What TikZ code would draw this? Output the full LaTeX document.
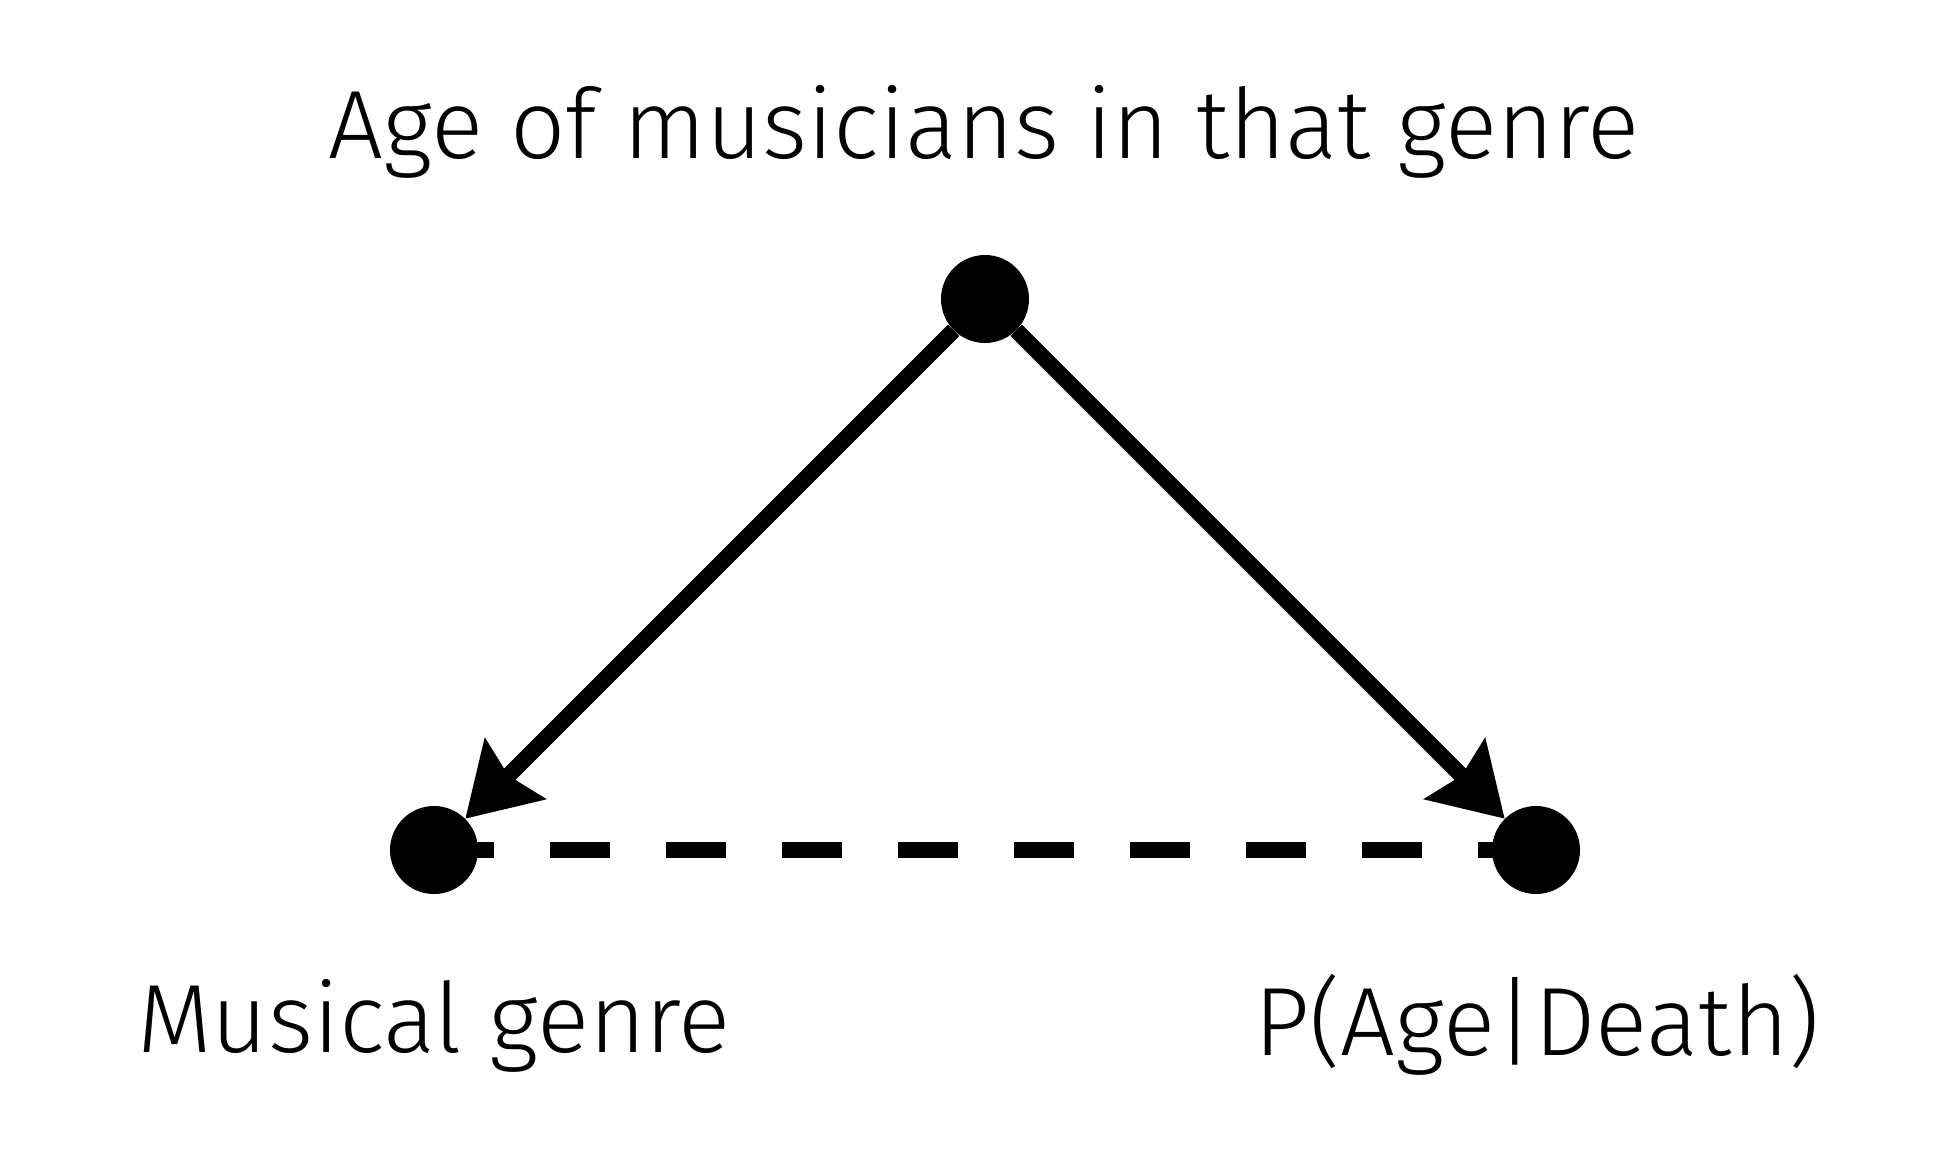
\documentclass[tikz,border=0pt]{standalone}
\usepackage{fontspec}
\setmainfont{Fira Sans}[UprightFont=* Light]
\usetikzlibrary{arrows.meta,positioning,backgrounds}

\begin{document}
\begin{tikzpicture}[x=1pt,y=-1pt,>={Stealth[length=70pt,width=84pt,inset=9pt]},
  dot/.style={circle,fill=black,minimum size=88pt,inner sep=0pt},
  lbl/.style={anchor=base,inner sep=0pt,font=\fontsize{97}{110}\selectfont}]
  \useasboundingbox (0,0) rectangle (1955,1160);
  \node[dot] (age) at (985,299) {};
  \node[dot] (genre) at (434,850) {};
  \node[dot] (death) at (1536,850) {};
  \node[lbl] (agelbl) at (984,158) {Age of musicians in that genre};
  \node[lbl] (genrelbl) at (434,1052) {Musical genre};
  \node[lbl] (deathlbl) at (1537,1055) {P(Age|Death)};
  \draw[->,line width=16pt] (age) -- (genre);
  \draw[->,line width=16pt] (age) -- (death);
  \begin{scope}[on background layer]
    \draw[line width=16pt,dash pattern=on 60pt off 56pt] (genre.center) -- (death.center);
  \end{scope}
\end{tikzpicture}
\end{document}
